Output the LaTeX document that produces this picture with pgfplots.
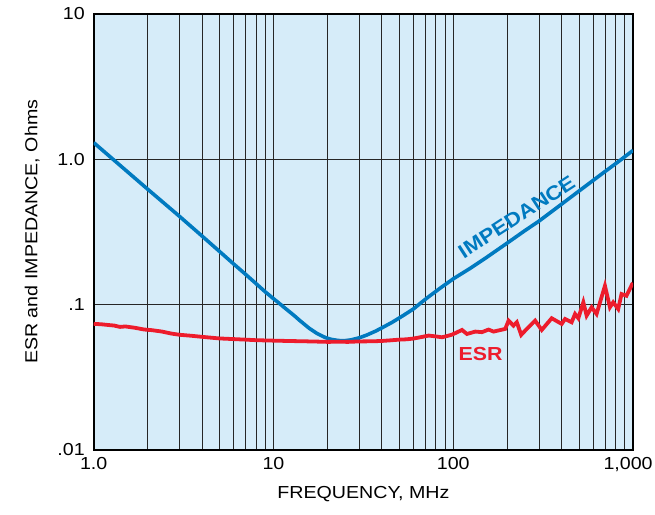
\documentclass[border=0pt]{standalone}
\usepackage{pgfplots}
\pgfplotsset{compat=1.18}
\usepackage{fontspec}
\setmainfont[FakeStretch=1.13]{Liberation Sans}
\definecolor{bgblue}{RGB}{214,236,249}
\definecolor{impblue}{RGB}{0,122,192}
\definecolor{esrred}{RGB}{237,28,44}
\begin{document}
\fontsize{17.5}{20}\selectfont
\begin{tikzpicture}
\begin{axis}[
  xmode=log, ymode=log,
  width=541bp, height=437bp, scale only axis,
  xmin=1, xmax=1000, ymin=0.01, ymax=10,
  xtick={1,10,100,1000},
  xticklabels={1.0,10,100,{}},
  extra x ticks={1000},
  extra x tick labels={1{,}000},
  extra x tick style={grid=none, xticklabel style={xshift=-5bp}},
  ytick={0.01,0.1,1,10},
  yticklabels={.01,.1,1.0,10},
  /pgf/number format/assume math mode=true,
  major tick length=0pt, minor tick length=0pt,
  xmajorgrids=true, xminorgrids=true, ymajorgrids=true, yminorgrids=false,
  grid style={black!85, line width=0.9bp},
  minor grid style={black!85, line width=0.9bp},
  axis line style={black, line width=1.8bp},
  axis background/.style={fill=bgblue},
  tick label style={font=\fontsize{17.5}{20}\selectfont},
  label style={font=\fontsize{17.5}{20}\selectfont},
  xlabel={FREQUENCY, MHz},
  ylabel={ESR and IMPEDANCE, Ohms},
  xticklabel style={yshift=-2bp},
  yticklabel style={xshift=-3bp},
  xlabel style={yshift=-3bp},
  ylabel style={yshift=6bp},
  clip=true,
]
\addplot[impblue, line width=3.6bp] coordinates {
(1,1.3) (2,0.620) (3,0.404) (4,0.296) (5,0.232) (6,0.190) (7,0.161) (8,0.139)
(9,0.122) (10,0.1095) (11,0.0995) (12,0.091) (13,0.084) (14,0.0775)
(15.8,0.0685) (17.5,0.0630) (19.5,0.0590) (21,0.0574) (23,0.0564) (25,0.0563)
(27,0.0570) (29.9,0.0588) (33,0.0615) (37,0.0655) (41,0.0700) (45.7,0.0753)
(52,0.083) (60,0.093) (67,0.104) (73,0.113) (85,0.130) (100,0.150) (124,0.177)
(150,0.207) (200,0.265) (250,0.322) (300,0.375) (400,0.490) (500,0.603)
(700,0.824) (850,0.985) (1000,1.15)
};
\addplot[esrred, line width=3.8bp] coordinates {
(1,0.0735) (1.1,0.0730) (1.2,0.0722) (1.3,0.0715) (1.4,0.0700) (1.5,0.0705)
(1.7,0.0690) (1.9,0.0672) (2.1,0.0665) (2.4,0.0650) (2.7,0.0630) (3.0,0.0618)
(3.5,0.0608) (4,0.0598) (4.5,0.0590) (5,0.0583) (6,0.0577) (7,0.0572)
(8,0.0567) (10,0.0563) (12,0.0560) (15,0.0557) (18,0.0554) (20,0.0552)
(23,0.0553) (26,0.0552) (30,0.0556) (35,0.0557) (40,0.0560) (45,0.0566)
(50,0.0572) (55,0.0575) (60,0.0582) (66,0.0595) (73,0.0610) (80,0.0602)
(86.5,0.0594) (92,0.0605) (98.4,0.0619) (111.8,0.0667) (119.1,0.0626)
(132.6,0.0650) (144.3,0.0644) (157.1,0.0671) (167.5,0.0650) (194.5,0.0678)
(203,0.0773) (216,0.0714) (225.6,0.0754) (238.6,0.0617) (256.3,0.0678)
(285.3,0.0773) (310.5,0.0667) (352.7,0.0803) (400.8,0.0734) (418.6,0.0794)
(455.4,0.0754) (475.6,0.0859) (496.2,0.0803) (528.9,0.1034) (551.6,0.0837)
(588,0.0955) (626.6,0.0859) (697.6,0.1343) (743.5,0.0955) (775.6,0.1034)
(826.8,0.0930) (862.5,0.1179) (919.2,0.1147) (988.6,0.138) (1000,0.14)
};
\node[impblue, rotate=33, font=\fontsize{20}{22}\bfseries\selectfont] at (axis cs:225,0.40) {IMPEDANCE};
\node[esrred, font=\fontsize{19}{21}\bfseries\selectfont] at (axis cs:142,0.0457) {ESR};
\end{axis}
\pgfresetboundingbox
\path ([shift={(-94bp,-65bp)}]current axis.south west) rectangle ([shift={(22bp,14bp)}]current axis.north east);
\end{tikzpicture}
\end{document}
